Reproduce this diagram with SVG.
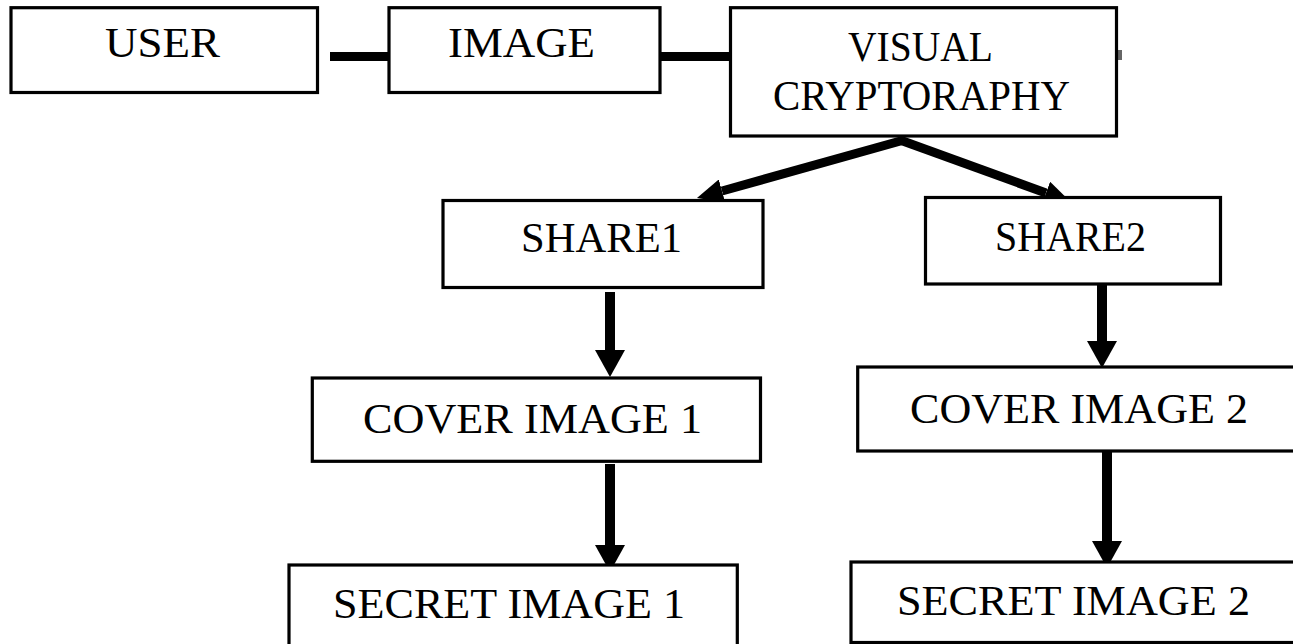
<svg xmlns="http://www.w3.org/2000/svg" width="1293" height="644" viewBox="0 0 1293 644">
  <style>
    .box { fill: #ffffff; stroke: #000000; stroke-width: 3.2; }
    .lbl { font-family: 'Liberation Serif', 'Times New Roman', serif; font-size: 42px; fill: #000000; }
    .link { stroke: #000000; fill: none; }
  </style>
  <defs>
    <marker id="headBig" viewBox="0 0 27 30" refX="0" refY="15" markerWidth="27" markerHeight="30" markerUnits="userSpaceOnUse" orient="auto">
      <path d="M0,0 L27,15 L0,30 Z" fill="#000000"/>
    </marker>
    <marker id="headSmall" viewBox="0 0 26 24" refX="0" refY="12" markerWidth="26" markerHeight="24" markerUnits="userSpaceOnUse" orient="auto">
      <path d="M0,0 L26,12 L0,24 Z" fill="#000000"/>
    </marker>
  </defs>
  <rect width="1293" height="644" fill="#ffffff"/>

  <g id="connectors">
    <line class="link" x1="330" y1="56.5" x2="389" y2="56.5" stroke-width="9"/>
    <line class="link" x1="660" y1="56.5" x2="731" y2="56.5" stroke-width="9"/>
    <rect x="1118" y="50" width="4" height="10" fill="#666666"/>
    <line class="link" x1="904" y1="140" x2="722" y2="191" stroke-width="9" marker-end="url(#headSmall)"/>
    <line class="link" x1="900" y1="140" x2="1046" y2="193" stroke-width="9" marker-end="url(#headSmall)"/>
    <line class="link" x1="610" y1="292" x2="610" y2="350" stroke-width="10" marker-end="url(#headBig)"/>
    <line class="link" x1="610" y1="464" x2="610" y2="545" stroke-width="10" marker-end="url(#headBig)"/>
    <line class="link" x1="1102" y1="285" x2="1102" y2="341" stroke-width="10" marker-end="url(#headBig)"/>
    <line class="link" x1="1107" y1="452" x2="1107" y2="541" stroke-width="10" marker-end="url(#headBig)"/>
  </g>

  <g id="user">
    <rect class="box" x="11" y="7.7" width="306.5" height="84.8"/>
    <text class="lbl" x="105" y="57" textLength="115" lengthAdjust="spacingAndGlyphs">USER</text>
  </g>
  <g id="image">
    <rect class="box" x="389" y="7.7" width="271" height="84.8"/>
    <text class="lbl" x="448" y="57" textLength="147" lengthAdjust="spacingAndGlyphs">IMAGE</text>
  </g>
  <g id="visual-cryptography">
    <rect class="box" x="730.5" y="7.7" width="386" height="128.3"/>
    <text class="lbl" x="848" y="61" textLength="145" lengthAdjust="spacingAndGlyphs">VISUAL</text>
    <text class="lbl" x="773" y="110" textLength="297" lengthAdjust="spacingAndGlyphs">CRYPTORAPHY</text>
  </g>
  <g id="share1">
    <rect class="box" x="443" y="200.5" width="320" height="87"/>
    <text class="lbl" x="521" y="252" textLength="161" lengthAdjust="spacingAndGlyphs">SHARE1</text>
  </g>
  <g id="share2">
    <rect class="box" x="925.5" y="197.5" width="295" height="86.5"/>
    <text class="lbl" x="995" y="251" textLength="151" lengthAdjust="spacingAndGlyphs">SHARE2</text>
  </g>
  <g id="cover-image-1">
    <rect class="box" x="312.3" y="378" width="448.2" height="83.3"/>
    <text class="lbl" x="363" y="433" textLength="339" lengthAdjust="spacingAndGlyphs">COVER IMAGE 1</text>
  </g>
  <g id="cover-image-2">
    <rect class="box" x="857.7" y="367" width="450" height="84"/>
    <text class="lbl" x="910" y="423" textLength="338" lengthAdjust="spacingAndGlyphs">COVER IMAGE 2</text>
  </g>
  <g id="secret-image-1">
    <rect class="box" x="289" y="565" width="448.3" height="90"/>
    <text class="lbl" x="333" y="618" textLength="352" lengthAdjust="spacingAndGlyphs">SECRET IMAGE 1</text>
  </g>
  <g id="secret-image-2">
    <rect class="box" x="851" y="562" width="460" height="80.5"/>
    <text class="lbl" x="897" y="615" textLength="353" lengthAdjust="spacingAndGlyphs">SECRET IMAGE 2</text>
  </g>
</svg>
